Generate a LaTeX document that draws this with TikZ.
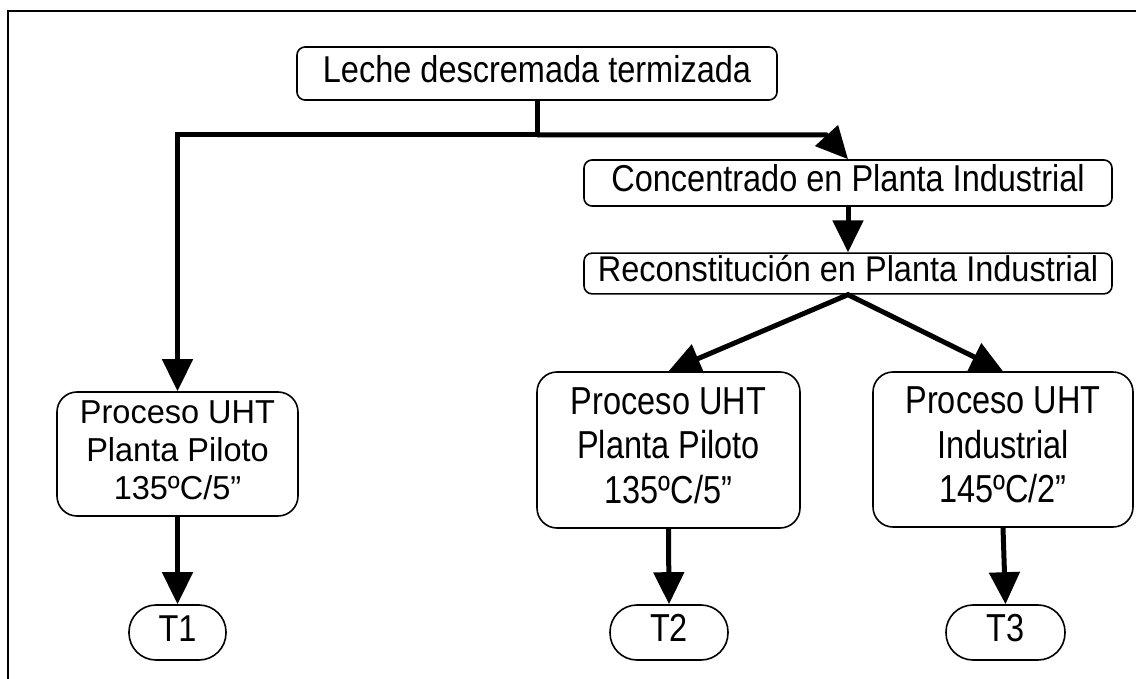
\documentclass[tikz,border=0pt]{standalone}
\usepackage{fontspec}
\setmainfont{Liberation Sans}
\usetikzlibrary{arrows.meta}
\newcommand{\tallstack}[2]{\scalebox{1}[#1]{\begin{tabular}{@{}c@{}}#2\end{tabular}}}
\begin{document}
\begin{tikzpicture}[x=1pt,y=-1pt,
  box/.style={draw, line width=1.6pt, fill=white, rounded corners=8pt, inner sep=0pt,
              font=\fontsize{32.5}{37}\selectfont},
  proc/.style={box, rounded corners=20pt, align=center},
  term/.style={box, rounded corners=27pt, minimum height=55pt},
  conn/.style={line width=5pt, line join=miter, -{Triangle[length=32pt,width=30pt]}},
  twoway/.style={line width=5pt, line join=miter,
                 {Triangle[length=32pt,width=30pt]}-{Triangle[length=32pt,width=30pt]}},
]
\useasboundingbox (0,0) rectangle (1136,679);
\clip (0,0) rectangle (1136,679);
% outer frame
\draw[line width=2pt] (8,11) rectangle (1170,710);

% process steps
\node[box, minimum width=480pt, minimum height=53pt] (leche) at (537,73.5)
  {\tallstack{1.15}{Leche descremada termizada}};
\node[box, minimum width=528pt, minimum height=46pt] (conc) at (848,183)
  {\tallstack{1.15}{Concentrado en Planta Industrial}};
\node[box, minimum width=528pt, minimum height=40pt] (recon) at (848,273.5)
  {\tallstack{1.1}{Reconstitución en Planta Industrial}};
\node[proc, minimum width=241pt, minimum height=124pt] (pp1) at (177.5,454)
  {\tallstack{1.02}{Proceso UHT\\Planta Piloto\\135ºC/5”}};
\node[proc, minimum width=263pt, minimum height=156pt] (pp2) at (668.5,450)
  {\tallstack{1.2}{Proceso UHT\\Planta Piloto\\135ºC/5”}};
\node[proc, minimum width=260pt, minimum height=155pt] (ind) at (1003,449.5)
  {\tallstack{1.2}{Proceso UHT\\Industrial\\145ºC/2”}};

% samples
\node[term, minimum width=97pt] (t1) at (177.5,632.5) {\tallstack{1.15}{T1}};
\node[term, minimum width=118pt] (t2) at (669,632.5) {\tallstack{1.2}{T2}};
\node[term, minimum width=119pt] (t3) at (1005.5,632.5) {\tallstack{1.2}{T3}};

% connectors
\coordinate (split) at (537,135);
\coordinate (elbow) at (826,135);
\draw[conn] (leche.south) -- (split) -| (pp1.north);
\draw[conn] (split) -- (elbow) -- (conc.north);
\draw[conn] (conc.south) -- (recon.north);
\draw[twoway] (pp2.north) -- (recon.south) -- (ind.north);
\draw[conn] (pp1.south) -- (t1.north);
\draw[conn] (pp2.south) -- (t2.north);
\draw[conn] (ind.south) -- (t3.north);
\end{tikzpicture}
\end{document}
